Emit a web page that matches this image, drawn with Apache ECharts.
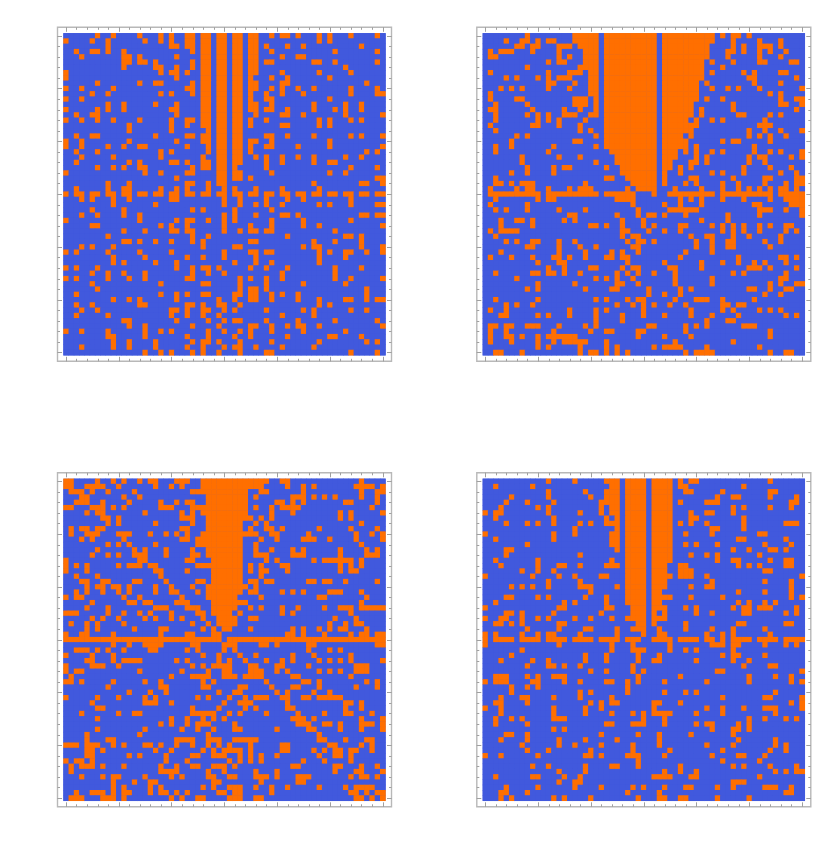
<!DOCTYPE html>
<html>
<head>
<meta charset="utf-8">
<style>html,body{margin:0;padding:0;background:#fff}#c{width:814px;height:848px}</style>
<script src="https://cdn.jsdelivr.net/npm/echarts@6/dist/echarts.min.js"></script>
</head>
<body>
<div id="c"></div>
<script>
// Each row of a matrix lists the columns whose cell value is 1 (others are 0).
const matrixTopLeft = [
"6 9 14 18 20 23-24 26-27 29-30 32-33 35-36 39 41-42 44 48 50 54 59",
"0 5 8 15 18 20 23-24 26-27 29-30 32-33 35-36 48 50",
"8 20-21 23-24 26-27 29-30 32-33 35-36 38 42 45 56",
"2 5-6 8 11 24 26-27 29-30 32-33 35-36 39 51 59",
"3 11-12 14 21 26-27 29-30 32-33 35-36 41 44-45",
"11-12 14-15 17 24 26-27 29-30 32-33 35-36 38-39 47-48 51 59",
"11 17-18 21 24 26-27 29-30 32-33 35-36 53",
"0 18 20-21 23 26-27 29-30 32-33 35-36 41 48 54",
"0 21 26-27 29-30 32-33 35 39 42 50",
"6 14 17-18 24 26-27 29-30 32-33 35-36 41-42 57",
"0 3 9 23-24 26-27 29-30 32-33 35-36 39 41 44 47 54 59",
"5 8 18 20 24 26-27 29-30 32-33 35 38 41 45 54 59-60",
"0 3 26-27 29-30 32-33 35 38-39 50",
"8 11 17 21 26-27 29-30 32-33 35-36 39 47 53 56",
"0 6 8 11 20-21 26-27 29-30 32-33 35-36 38-39 42 47 51 53 56",
"2 5-6 21 26-27 29-30 32-33 36 41-42 45 53 60",
"0 3 6 9 14 20 23-24 26-27 29-30 32-33 35 38 48 50 54 56",
"12 20 23 26-27 29-30 32-33 35 41-42 48 50",
"12 20 27 29-30 32-33",
"2 5-6 17 23-24 26-27 29-30 32-33 38-39 42 47 54 56 60",
"0 3 12 21 26-27 29-30 32-33 35-36 39 50",
"0 3 8 11 14-15 23 27 29-30 32-33 35 38-39 44 50 60",
"2 6 18 20 27 29-30 32-33 35 57 59",
"3 9 18 26 29-30 32-33 36 38 41 44 47 53 56",
"2 12 14 20-21 23 26-27 29-30 32-33 38 41 47 50-51",
"6 9 11 14-15 24 26-27 29-30 32 38 54 59",
"0 15 18 23-24 29-30 32-33 39 50 53",
"21 29-30 32-33 35 59-60",
"8 12 23-24 27 29-30 47 56-57 60",
"2 8 11-12 18 21 23 27 30 32 36 41 48",
"0 2-3 5-6 8-9 11-12 14-15 17-18 20-21 23-24 26-27 29-30 32-33 35-36 38-39 41-42 44-45 47-48 50-51 53-54 56-57 59-60",
"3 5 9 12 20-21 30 33 38 42 45 54",
"9 17 30 33 36 38 41 48 50 54 59-60",
"5 11 24 26 32 39",
"3 6 11 14 30 32 36 41-42 44 56-57 59-60",
"0 14 21 23-24 27 30 32 39 45 54",
"5-6 18 20 23 30 35 39 45 48 60",
"11 15 20-21 23-24 30 33 35-36 38-39 51",
"8 24 27 42 53-54 56",
"11-12 14 17 20 24 26 35-36 47 51 56",
"3 5 9 26 32-33 45 47-48 56 60",
"0 2 8 14 20 30 35-36 38-39 48 50 53-54 57 60",
"9 15 23 26 30 36 48 53",
"9 11 17 21 32 36 39 48",
"0 2 6 21 24 26-27 29 35 38 42 51 56",
"5 8 11 15 24 27 30 41 51",
"0 2 8 12 15 23-24 33 35 38 41 51 54 60",
"5 18 26-27 33 38 45 53",
"6 33 35-36 38 57",
"2 18 21 23 26-27 32-33 35-36 39 41 44 57",
"9 12 14 21 29 32 35-36 39 44 48 53-54 57 59-60",
"2 5 14-15 23-24 26 29-30 33 48 50",
"3 6 20-21 23 26-27 30 32 38 45 47 54 57",
"2 8 20 23 26 29 41 47",
"11-12 21 27 30 32-33 38 44 51 59",
"12 15 24 29 35-36 39 42 44-45 48 60",
"0 3 8 15 18 20 27 30 33 35 39 45 53",
"8-9 15 23 27 32 35 42 50-51 56",
"9 12 17 24 26-27 29 33 39 48 57 59",
"3 9 12 17 23 26 30 32-33 36 41 47",
"15 18 20 24 26 29 33 38-39 54 59"
];
const matrixTopRight = [
"8 17-21 23-32 34-43 45 47-48 50",
"4 7-8 10 12-13 17-21 23-32 34-43 47 52 56",
"6-7 9-10 14-16 18-21 23-32 34-42 47 49 52-54 56",
"1 3-5 9 14 19-21 23-32 34-42 46-47 49 52 54 57",
"1-2 14 16 19-21 23-32 34-42 46 52 56",
"12 14-15 19-21 23-32 34-41 43 47 52-53 58-59",
"8 18-21 23-32 34-41 45",
"1 12 16-18 20-21 23-32 34-41 43 49 51 56-57",
"4 6 10 12 14-16 20-21 23-32 34-41 50-51 59",
"12-13 17 20-21 23-32 34-40 42 51 56",
"3 5 7 12 16 20-21 23-32 34-40 43 46 48 52 60",
"1 20-21 23-32 34-40 54 56",
"1 6-7 17-19 21 23-32 34-40 42 45 56 59-60",
"2 8 17-19 21 23-32 34-39 47 56-57 60",
"1-2 9 15 18 21 23-32 34-39 41 47 59",
"2 8 10 12 15-17 20-21 23-32 34-39 41 48-49 54 56",
"2 10 12 14 19 23-32 34-38 40 43 45 53",
"1 9-10 14 18 23-32 34-40 52-54",
"2 18 20 23-32 34-39 50 53 56 60",
"6 8 21 23-32 34-37 39 50 52 54 57",
"5 17-18 23-32 34-38 45 47-48 54",
"2 5 13 21 23-32 34-38 40 51",
"2 12 24-32 34-36 38 40 43 45 51 54 56 60",
"7 14 18 25-32 34-36 40 42 50 52-53 58 60",
"7 21 25-32 34-35 39-40 42 50 53",
"8 13 15-16 23 26-32 34-35 37 39 49 54 58",
"5 8 13 26-32 34 37 43 45 49 56 59",
"2 23-24 27-32 34 39-40 47 53-54 59-60",
"2-3 5 7-9 19 28-32 34 38 40 45 48 53 57 59-60",
"1 6 8-9 12 16 18-20 27 29-32 36 41 45 48 50 52 54 56-57 59",
"1-10 12-21 23-28 32 35-43 45-54 56-60",
"2 10 12-13 25-28 37 39 41 45 49 54 57-60",
"1 8 28 34 37 41 51-52 58-60",
"2 4 8 14 19 29 35-40 52-54 57 60",
"16-17 25 29 31-32 34 38 46 52 60",
"3 6-7 9 15 17 26 30 41 46",
"3 9 20-21 23 26 30 32 37-38 43 45 47 49 52 54 57-58",
"1 3-6 26-27 31 34 37 45 47 49 52 57 59",
"2 26 28-29 39 42-43 47 50 56",
"4 6 9-10 14 17 27 29-30 32 40 43 46-47 53 56",
"8-9 14 18 21 28-29 40 43 46-47 54",
"3 14 19 24 26 29 38 43",
"1 5 9 13-14 16 19 23-24 26-27 37 48 56-57 59",
"10 14-15 27 34 41 45 48 51 53 57",
"12 15 20-21 26 28-29 35-36 41 50-52 54 59",
"2 9-10 12-13 15 18 25 27 29 32 36 47 49 57",
"6 21 23 25 28 36 43 56-57",
"10 17 25-26 29 36 43 54 56 59-60",
"8 10 19 24-25 31 37 39 50-51 54 57-58",
"31 34 37 53 56",
"2 10 21 23 27 29-30 36 40-42 45 51",
"4 6 9 25 28 30 32 35 38 45-46 48-49",
"1 4 16 21 23 30 39 45 47 52 54 56",
"3-4 10 12 16 21 26 30 34 39 43 48 57 59",
"21 26 42 46-47",
"1-2 4-5 8-10 14 19 21 31-32 38 40 42 49-51",
"1 4 13 20 23-24 29-30 38 54",
"1 4-5 7 10 12-17 29 34 39 54",
"1 5 10 13 15-19 23 36 47",
"10 12 18 23 25 32 34-37 42 52",
"2-3 7 18 20-21 23 25 27 38 40-43 54 57-58"
];
const matrixBottomLeft = [
"0-1 6 9 11 14 16-17 21-23 26-38 41-42 56",
"0-1 4-7 10 17 20 22 26-37 42 45 47 55-58 60",
"1-3 5 8 13 24-34 37-38 45 56 59-60",
"3-4 11 14 27-34 36 43-45 47 49 51 56 59",
"2-4 7 12 18 21 23-24 27-34 40-41 43 45 53-54 59",
"0-1 5-7 9 11 18-20 24-34 36 39 41-44 58",
"4 6-7 15 22 24 26-34 39 43 52 54 60",
"7-8 10 22-24 27-35 37 39 52 54",
"8 10 17 24 27-33 36 38 56",
"1 3-4 6-7 22-23 27-33 35 38-39 41 48 54 59",
"1 4-6 10-12 16 19 21 23 26-36 39-40 46 55 58 60",
"3 5 11 22-23 25-33 37 40 45-47 50 55 60",
"8 10 12 17 25-33 36 56",
"6 13 15 19 24 27-33 36 39 43 45 52 57 59",
"5 8 10 13-15 19 24-25 27-33 36-38 43-45 52 57-59",
"0 14-15 23-24 28-33 38 40 47 49-54 56",
"0 2 4 10 12-14 16-17 25-33 35 37 41-42 52 54 56",
"0 4 17-18 23 28-33 35 37-38 42 52 54-55",
"2 6 18 28-33 37",
"3-4 7-8 13-14 19 25-26 28-33 35-36 38-39 46-47 49-50 53 59",
"4 6-7 9-10 12 17 20 24 27-34 36",
"2 4 7 10 12 17 20-21 25 27-33 35-36 41 43 45 50-52 56",
"0 2-3 11 14 22 27-32 37 48-49 57",
"5 12-13 15-16 21-23 28-34 56",
"4 8 17-19 23-25 28-32 35 37 41 44 49 52-54 56-60",
"0-2 8 11 14 16 20 25-26 28-31 33 41 43 54",
"5 7 10 15 17 20 22 26 29-32 35-36 51 55",
"1 4 6 11 24 27 29-32 50 53 55-56",
"4 6 13 18-19 26 28 30-31 35 43 45 48 50 52-53 57",
"0 3-4 9 18 23-24 28-29 42-43 45 49 54 56-57 59-60",
"0-29 31-60",
"9 12 15-18 24-25 30-32 37-38 40 46-47 59-60",
"2-4 6 8 11 16-17 23 25 30 32 46 50 52",
"0 5 9 26 29 33 36 43 47 54",
"4-5 9 11-14 21 23 29 31 34 38 41 43 48 50 52 54 60",
"0 5-7 10 24 26 28-31 35-36 40-41 46 55-57",
"0 2-3 14 22 27 30-31 35-37 40 42 48 50 52 55-57",
"1 20 24-27 30-32 34-37 43-44 54",
"0-1 3 9 15 18 26 28 38 45-46 48 57 59",
"8 18-19 26-27 33-34 39 43-44 48 55 59",
"12 16 19 29 32-33 40 42 47 50",
"0 6 10 15 17 25 27 31 34 36-38 41-42 45-46 48-52",
"5 15-17 20 30 33-35 42 53-54 56",
"6-7 24 29 34 36 42-43 53 56",
"3 10 13-14 24-28 31 33 38 44 49 53-54 58",
"6 20 23 26 28 30 43-45 47 56 60",
"18 20 23 25-27 32 44-46 49-50 52 56-58 60",
"6 15 22 25 28 32-33 40 46-47 52 56 60",
"4 14 27 48",
"4 8-9 21-24 27-29 32-36 48-49 53 57-58",
"0-2 4-6 9 11 15-16 18 21 24 27 29 31 35 41-42 50-51 56 58",
"4-5 7 17 20 26 28 30-33 35 41-42 47 49 51-52 54-55 58",
"4-5 12 14 19 24-25 28-30 33 35 37 40 48 51-52 54",
"0 2-3 5 19 23 31 33 35 37 45 49 54",
"1 3-5 7 11 18 21 24-25 28-30 32 43-44 51-52 56 59",
"1 18-21 27 30 36 40 51 55-56 60",
"3 7 9-10 15 20 22 27-28 31-32 36-38 40 44-46 54 56-57 59",
"9 13 16-17 28-29 37 44-45",
"9 11 16 18 26 28 31-33 36 39 42 48 53 55-58",
"2 5-7 9 11-12 16 18-19 21 23 29-30 32-33 39 54-55 57 59-60",
"1-3 7-9 11 20 22 25-26 31-33 36-37 55-56 58 60"
];
const matrixBottomRight = [
"12 17 23-25 27-30 32-35 37 39-40 54",
"2 9 24-25 27-30 32-35 37-38 49",
"12 19 23-25 27-30 32-35 38-39 45 54-55",
"5 12 20 23-25 27-30 32-35 44 47-48 54 59",
"4 8 13 22-25 27-30 32-35 37 42-44 58-59",
"3 10 12 22 24-25 27-30 32-35 47 49 54 58",
"0 2-3 12 18 22 24-25 27-30 32-35 39 42-43 47",
"2 13 23 25 27-30 32-35 39-40 49",
"4 8 10 13 18 20 23-25 27-30 32-35 37 39 42 49 57-59",
"17 25 27-30 32-35 43-44 49",
"0 13 17 24-25 27-30 32-35 38 43 52-53",
"2 13 24-25 27-30 32-35 48-49 57",
"8 24-25 27-30 32-35 38 40 44 53 58",
"4-5 25 27-30 32-35 47 50 54-55 57",
"4 18 27-30 32-35 39 42 44 52",
"2 10 24 27-30 32-35 44 47-48 54 57-58",
"3 10 14-15 18 23-25 27-30 32-34 37-38 48 50 52 57-58",
"7 10 13 27-30 32-34 37-39 53-54",
"0 9 14 17 22-23 27-30 32-35 37-39 42 60",
"12 18 27-30 32-34 43 53 58",
"5 7 9 12 18-20 25 27-30 32-34 39 42-43 58",
"20 27-30 32-33 48 53 58",
"4-5 10 12 19 23 27-30 32-35 39 45 58 60",
"2 15 17 23 27-30 32-33 48 50 53 55",
"0 14-15 23-24 28-30 32-34 38 40 47 49-50 52-54 59",
"4-5 7 13 22 28-30 32 34 40 43 49-50 57 59",
"0 3-4 7 10 12 17 20 24 27-30 32-34",
"2-3 5 7 14-15 29-30 32 38 48-49 57-58",
"8 14 19-20 25 28-30 33 38 43 47 53",
"0 2 7 10 12-13 18 25 30 33-34 42 45 47 54",
"0 2-5 7-10 12-15 17-20 22-25 27-29 32-35 37-40 42-43 45 47-50 52-55 57-60",
"0 14 24 28 35 43-45 47-48 53 57 59",
"7 24 28-30 35 38 40 47",
"5 19 23 29 33 45 47-48 53",
"3 9 12 19 23 29 32-33 40 47 50",
"8 12-13 15 18 28 49 54-55",
"20 23 28 30 44-45 60",
"2-4 8 10 13-15 29 37 50 55 58",
"0 2-4 9-10 15 18 23-24 27 29 34 42 50 58 60",
"5 8 10 27",
"5 18 20 27 34 38 40 55",
"3 7-8 13 18 24 45 53-54 60",
"2-3 8 20 22 24-25 32-33 37 58 60",
"0 3 13 19 22 32 42 45 49 53-55 60",
"3 13 19 24 28 30 32-35 40 45 55",
"2 5 7 13-15 30 34 50 53 57 59",
"2 8 23-24 28-30 34 40 42-43 48 50",
"13 15 43 47-48 50",
"4-5 8 22 29 33 39 47",
"3 8 14 19 25 33 48 55",
"7 14 17 22 28 33 42 47 55 57",
"8 12 20 28 35 45 54 57",
"0 3 10 19-20 22 27-29 34 43 48-49 53",
"29 45 52",
"9 12 19 24-25 29 37 47 49 54 59",
"14 19 34 37 40 55 57 59-60",
"2 9-10 15 18 32-35 39-40 52",
"14 17-18 47-49",
"4 10 17 22 28 30 34 38-39 44 47 53-55 58",
"3-4 8 27 33 57-58",
"3 5 13 15 20 29 33-34 37-38 44 50"
];
const matrices = [matrixTopLeft, matrixTopRight, matrixBottomLeft, matrixBottomRight];
const cellIndex = Array.from({length: 61}, (_, i) => i);
const majorTicks = [0, 10, 20, 30, 40, 50, 60];
const minorTicks = [0,2,4,6,8,10,12,14,16,18,20,22,24,26,28,30,32,34,36,38,40,42,44,46,48,50,52,54,56,58,60];

const BLUE = '#4159DD', ORANGE = '#FF6F00';
function parseRow(s) {
  const on = new Set();
  s.split(' ').forEach(p => {
    const [a, b] = p.split('-').map(Number);
    for (let i = a; i <= (b === undefined ? a : b); i++) on.add(i);
  });
  return on;
}
function toData(rows) {
  const out = [];
  rows.forEach((s, r) => {
    const on = parseRow(s);
    cellIndex.forEach(c => out.push([c, r, on.has(c) ? 1 : 0]));
  });
  return out;
}
const cellLefts = [63.5, 482.8, 63.5, 482.8];
const cellTops = [33.3, 33.3, 478.8, 478.8];
const CELL = 322, PAD = 6;
const pad = PAD / (CELL / 61);
const lo = -0.5 - pad, hi = 60.5 + pad;

const grid = [], xAxis = [], yAxis = [], series = [];
matrices.forEach((rows, i) => {
  // heatmap grid
  grid.push({left: cellLefts[i], top: cellTops[i], width: CELL, height: CELL,
    show: true, backgroundColor: BLUE, borderWidth: 0});
  xAxis.push({type: 'category', gridIndex: grid.length - 1, data: cellIndex, show: false});
  yAxis.push({type: 'category', gridIndex: grid.length - 1, data: cellIndex, inverse: true, show: false});
  series.push({type: 'heatmap', xAxisIndex: xAxis.length - 1, yAxisIndex: yAxis.length - 1,
    data: toData(rows), progressive: 0, animation: false, silent: true, emphasis: {disabled: true}});
});
matrices.forEach((rows, i) => {
  // frame and ticks
  const g = grid.length;
  grid.push({left: cellLefts[i] - PAD, top: cellTops[i] - PAD, width: CELL + 2 * PAD, height: CELL + 2 * PAD,
    show: true, borderColor: '#b8b8b8', borderWidth: 1.4, backgroundColor: 'transparent', z: 5});
  const ax = (position, values, length) => ({
    type: 'value', gridIndex: g, position, min: lo, max: hi, z: 6,
    axisLine: {show: false, onZero: false}, splitLine: {show: false}, minorTick: {show: false},
    axisLabel: {show: false},
    axisTick: {show: true, inside: true, length, customValues: values, lineStyle: {color: '#a0a0a0', width: 1}}
  });
  ['bottom', 'top'].forEach(p => {
    xAxis.push(ax(p, majorTicks, 4.5));
    xAxis.push(ax(p, minorTicks, 2.5));
  });
  ['left', 'right'].forEach(p => {
    yAxis.push(ax(p, majorTicks, 4.5));
    yAxis.push(ax(p, minorTicks, 2.5));
  });
});

const chart = echarts.init(document.getElementById('c'), null, {renderer: 'canvas'});
chart.setOption({
  animation: false,
  backgroundColor: '#fff',
  tooltip: {show: false},
  visualMap: {type: 'piecewise', show: false, dimension: 2, seriesIndex: [0, 1, 2, 3],
    pieces: [{value: 0, color: BLUE}, {value: 1, color: ORANGE}]},
  grid, xAxis, yAxis, series
});
</script>
</body>
</html>
